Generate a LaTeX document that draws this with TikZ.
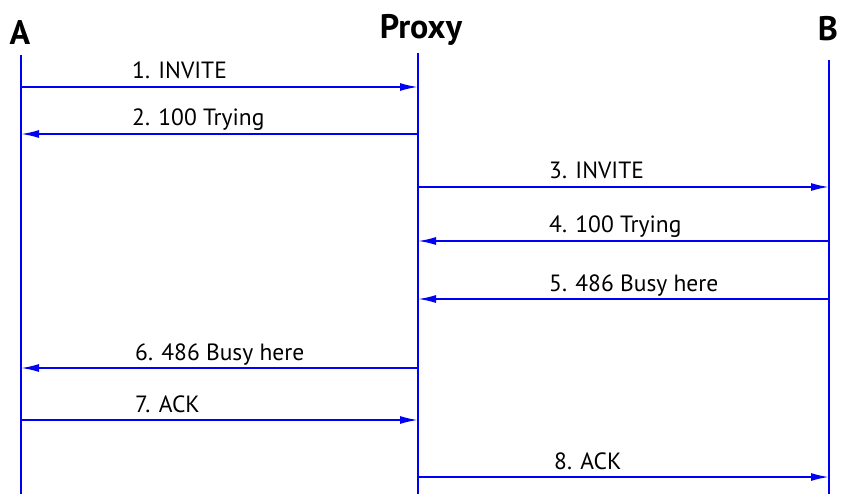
\documentclass[tikz,border=0pt]{standalone}
\usepackage{fontspec}
\setmainfont{PT Sans}
\usetikzlibrary{arrows.meta}
\usetikzlibrary{positioning}
\definecolor{sigblue}{RGB}{0, 0, 245}

\tikzset{
  lifeline/.style={color=sigblue, line width=1.8pt},
  msg/.style={color=sigblue, line width=1.8pt, -{Latex[length=18pt, width=8pt]}},
  msglabel/.style={font=\fontsize{23.5}{27}\selectfont, anchor=base west, inner sep=0pt},
  party/.style={font=\bfseries\fontsize{34}{39}\selectfont, anchor=base, inner sep=0pt},
}

\begin{document}
\begin{tikzpicture}[x=1pt, y=-1pt]
            \useasboundingbox (0,0) rectangle (842,494);
            % parties
            \node[party] (A)     at ( 20, 45) {A};
            \node[party] (Proxy) at (421, 39) {Proxy};
            \node[party] (B)     at (828, 41) {B};
            % lifelines
            \coordinate (Atop) at ( 21, 55);  \coordinate (Abot) at ( 21, 494);
            \coordinate (Ptop) at (418, 53);  \coordinate (Pbot) at (418, 494);
            \coordinate (Btop) at (829, 60);  \coordinate (Bbot) at (829, 494);
            \draw[lifeline] (Atop) -- (Abot);
            \draw[lifeline] (Ptop) -- (Pbot);
            \draw[lifeline] (Btop) -- (Bbot);
            % messages
            \foreach \i/\xs/\xe/\y/\lx/\txt in {
                1/ 21/418/ 87/132/{1. INVITE},
                2/418/ 21/134/132/{2. 100 Trying},
                3/418/829/187/549/{3. INVITE},
                4/829/418/241/549/{4. 100 Trying},
                5/829/418/299/549/{5. 486 Busy here},
                6/418/ 21/368/135/{6. 486 Busy here},
                7/ 21/418/420/135/{7. ACK},
                8/418/829/477/554/{8. ACK}}
            {
                \coordinate (s\i) at (\xs, \y);
                \coordinate (e\i) at (\xe, \y);
                \draw[msg] (s\i) -- (e\i);
                \node[msglabel] (l\i) at (\lx, \y-8) {\txt};
            }
        \end{tikzpicture}
\end{document}
